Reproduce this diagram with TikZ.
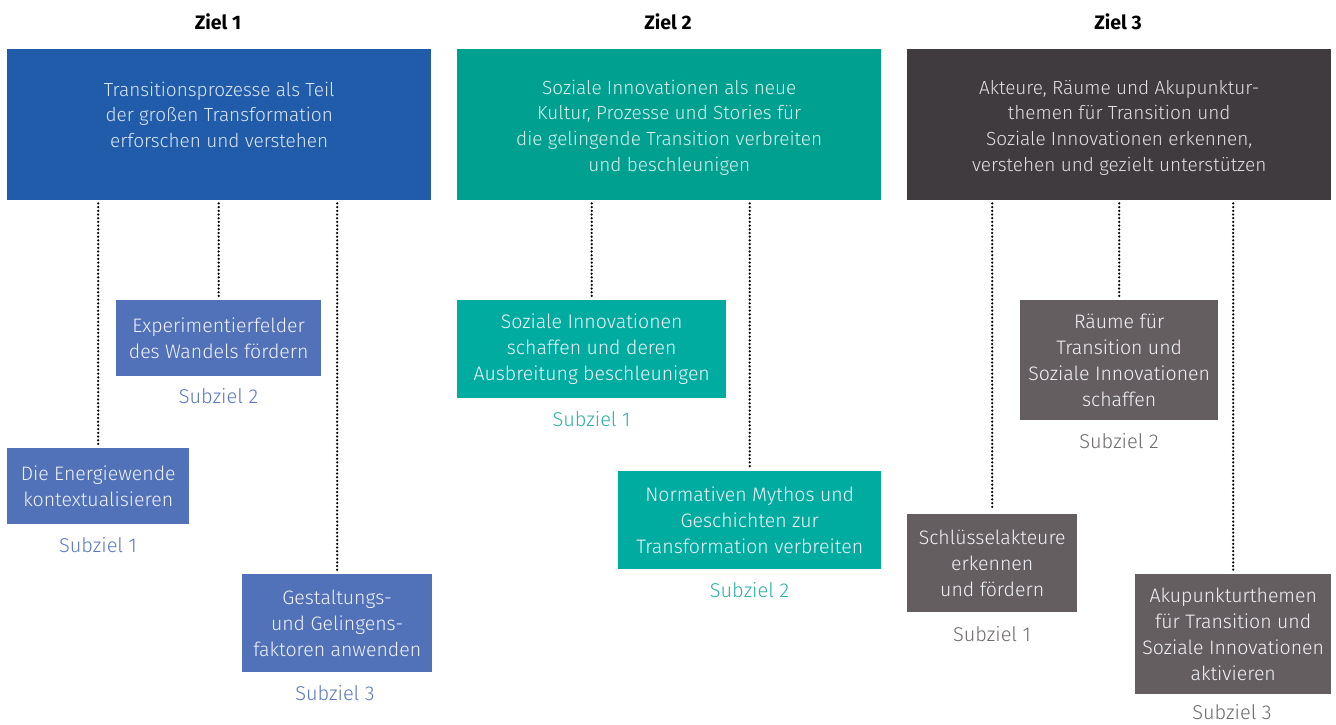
\documentclass[tikz,border=0pt]{standalone}
\usepackage{fontspec}
\setmainfont{Fira Sans Light}
\newfontfamily\titlefont{Fira Sans Bold}
\definecolor{zamain}{HTML}{215CAB}
\definecolor{zasub}{HTML}{5171B8}
\definecolor{zalab}{HTML}{5B79BF}
\definecolor{zatxt}{HTML}{DCE6F4}
\definecolor{zbmain}{HTML}{00A091}
\definecolor{zbsub}{HTML}{00ACA0}
\definecolor{zblab}{HTML}{2BB1A6}
\definecolor{zbtxt}{HTML}{D9F1EC}
\definecolor{zcmain}{HTML}{403B3F}
\definecolor{zcsub}{HTML}{645E61}
\definecolor{zclab}{HTML}{6E6A6C}
\definecolor{zctxt}{HTML}{E4E0E2}
\definecolor{subtxt}{HTML}{F2F3F8}
\begin{document}
\begin{tikzpicture}[x=1pt,y=1pt,
  box/.style={inner sep=0pt, anchor=north west, align=center},
  mainbox/.style={box, minimum width=424pt, minimum height=151pt,
    font=\fontsize{19}{25.7}\selectfont},
  subbox/.style={box, text=subtxt, font=\fontsize{19.5}{25.8}\selectfont},
  lab/.style={inner sep=0pt, font=\fontsize{20}{22}\selectfont},
  ttl/.style={inner sep=0pt, font=\titlefont\fontsize{19.5}{22}\selectfont},
  dotline/.style={line width=2.5pt, line cap=round, dash pattern=on 0pt off 3.7pt, black}]
\useasboundingbox[fill=white] (0,0) rectangle (1336,-724);

% titles
\node[ttl] (t1) at (218,-22) {Ziel 1};
\node[ttl] (t2) at (668,-22) {Ziel 2};
\node[ttl] (t3) at (1118,-22) {Ziel 3};

% main boxes
\node[mainbox, fill=zamain, text=zatxt] (z1) at (7,-49)
  {\rule{0pt}{20pt}Transitionsprozesse als Teil\\der großen Transformation\\erforschen und verstehen\\\mbox{}};
\node[mainbox, fill=zbmain, text=zbtxt] (z2) at (457,-49)
  {\rule{0pt}{20pt}Soziale Innovationen als neue\\Kultur, Prozesse und Stories für\\die gelingende Transition verbreiten\\und beschleunigen};
\node[mainbox, fill=zcmain, text=zctxt] (z3) at (907,-49)
  {\rule{0pt}{20pt}Akteure, Räume und Akupunktur-\\themen für Transition und\\Soziale Innovationen erkennen,\\verstehen und gezielt unterstützen};

% Ziel 1 sub boxes
\node[subbox, fill=zasub, minimum width=205pt, minimum height=76pt] (a2) at (116,-300)
  {Experimentierfelder\\des Wandels fördern};
\node[subbox, fill=zasub, minimum width=182pt, minimum height=76pt] (a1) at (7,-448)
  {Die Energiewende\\kontextualisieren};
\node[subbox, fill=zasub, minimum width=190pt, minimum height=98pt] (a3) at (242,-574)
  {Gestaltungs-\\und Gelingens-\\faktoren anwenden};
\node[lab, text=zalab] (la2) at (218.5,-396) {Subziel 2};
\node[lab, text=zalab] (la1) at (98,-545) {Subziel 1};
\node[lab, text=zalab] (la3) at (335,-693) {Subziel 3};

% Ziel 2 sub boxes
\node[subbox, fill=zbsub, minimum width=269pt, minimum height=98pt] (b1) at (457,-300)
  {Soziale Innovationen\\schaffen und deren\\Ausbreitung beschleunigen};
\node[subbox, fill=zbsub, minimum width=263pt, minimum height=98pt] (b2) at (618,-471)
  {Normativen Mythos und\\Geschichten zur\\Transformation verbreiten};
\node[lab, text=zblab] (lb1) at (591.5,-419) {Subziel 1};
\node[lab, text=zblab] (lb2) at (749.5,-590) {Subziel 2};

% Ziel 3 sub boxes
\node[subbox, fill=zcsub, minimum width=198pt, minimum height=120pt] (c2) at (1020,-300)
  {Räume für\\Transition und\\Soziale Innovationen\\schaffen};
\node[subbox, fill=zcsub, minimum width=170pt, minimum height=98pt] (c1) at (907,-514)
  {Schlüsselakteure\\erkennen\\und fördern};
\node[subbox, fill=zcsub, minimum width=196pt, minimum height=120pt] (c3) at (1135,-574)
  {Akupunkturthemen\\für Transition und\\Soziale Innovationen\\aktivieren};
\node[lab, text=zclab] (lc2) at (1119,-441) {Subziel 2};
\node[lab, text=zclab] (lc1) at (992,-634) {Subziel 1};
\node[lab, text=zclab] (lc3) at (1232,-712) {Subziel 3};

% dotted connectors
\foreach \m/\s in {z1/a1, z1/a2, z1/a3, z2/b1, z2/b2, z3/c1, z3/c2, z3/c3}{
  \draw[dotline] ([yshift=-3pt]\m.south -| \s.north) -- ([yshift=4pt]\s.north);
}
\end{tikzpicture}
\end{document}
